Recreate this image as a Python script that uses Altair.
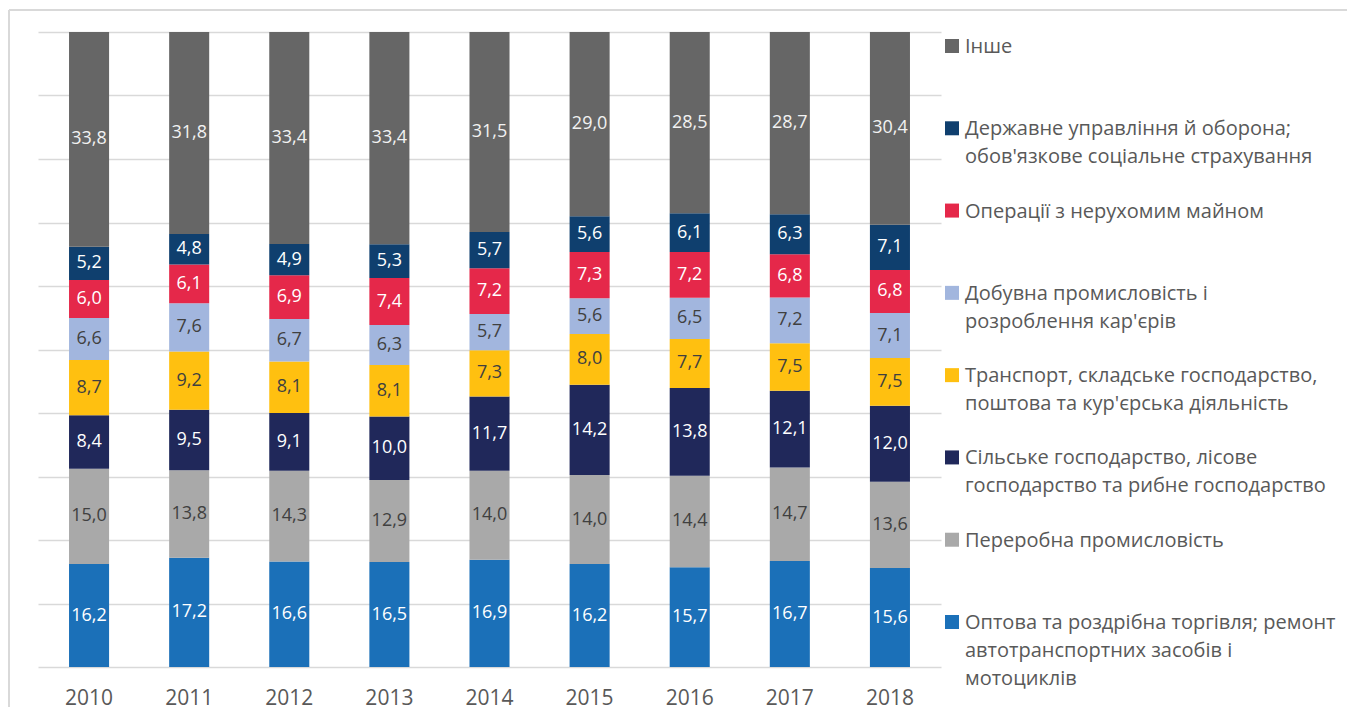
import altair as alt
import pandas as pd

years = ["2010", "2011", "2012", "2013", "2014", "2015", "2016", "2017", "2018"]

# categories from bottom of the stack to top
categories = [
    "Оптова та роздрібна торгівля; ремонт автотранспортних засобів і мотоциклів",
    "Переробна промисловість",
    "Сільське господарство, лісове господарство та рибне господарство",
    "Транспорт, складське господарство, поштова та кур'єрська діяльність",
    "Добувна промисловість і розроблення кар'єрів",
    "Операції з нерухомим майном",
    "Державне управління й оборона; обов'язкове соціальне страхування",
    "Інше",
]
legend_labels = [
    "Оптова та роздрібна торгівля; ремонт\nавтотранспортних засобів і\nмотоциклів",
    "Переробна промисловість",
    "Сільське господарство, лісове\nгосподарство та рибне господарство",
    "Транспорт, складське господарство,\nпоштова та кур'єрська діяльність",
    "Добувна промисловість і\nрозроблення кар'єрів",
    "Операції з нерухомим майном",
    "Державне управління й оборона;\nобов'язкове соціальне страхування",
    "Інше",
]
colors = ["#1b70b8", "#a9a9a9", "#20285a", "#ffc010", "#a2b6de", "#e5284a", "#0f3f6e", "#666666"]
label_colors = ["#ffffff", "#404040", "#ffffff", "#404040", "#404040", "#ffffff", "#ffffff", "#f2f2f2"]

trade = [16.2, 17.2, 16.6, 16.5, 16.9, 16.2, 15.7, 16.7, 15.6]
manufacturing = [15.0, 13.8, 14.3, 12.9, 14.0, 14.0, 14.4, 14.7, 13.6]
agriculture = [8.4, 9.5, 9.1, 10.0, 11.7, 14.2, 13.8, 12.1, 12.0]
transport = [8.7, 9.2, 8.1, 8.1, 7.3, 8.0, 7.7, 7.5, 7.5]
mining = [6.6, 7.6, 6.7, 6.3, 5.7, 5.6, 6.5, 7.2, 7.1]
real_estate = [6.0, 6.1, 6.9, 7.4, 7.2, 7.3, 7.2, 6.8, 6.8]
public_admin = [5.2, 4.8, 4.9, 5.3, 5.7, 5.6, 6.1, 6.3, 7.1]
other = [33.8, 31.8, 33.4, 33.4, 31.5, 29.0, 28.5, 28.7, 30.4]

series = [trade, manufacturing, agriculture, transport, mining, real_estate, public_admin, other]

rows = []
for ci, (cat, vals) in enumerate(zip(categories, series)):
    for yr, v in zip(years, vals):
        rows.append({"year": yr, "cat": cat, "order": ci, "value": v})
df = pd.DataFrame(rows)

FONT = "Open Sans"
BORDER = "#d9d9d9"
W, H = 903, 635

base = alt.Chart(df).transform_stack(
    stack="value",
    groupby=["year"],
    as_=["y0", "y1"],
    offset="normalize",
    sort=[alt.SortField("order", order="ascending")],
).transform_calculate(
    mid="(datum.y0 + datum.y1) / 2",
    lbl="replace(format(datum.value, '.1f'), '.', ',')",
)

x_enc = alt.X(
    "year:N",
    sort=years,
    scale=alt.Scale(paddingInner=0.6, paddingOuter=0.31),
    axis=alt.Axis(
        title=None, labelAngle=0, domain=False, ticks=False, grid=False,
        labelFont=FONT, labelFontSize=21, labelColor="#595959", labelPadding=20,
    ),
)

bars = base.mark_bar().encode(
    x=x_enc,
    y=alt.Y(
        "y0:Q",
        scale=alt.Scale(domain=[0, 1], nice=False),
        axis=alt.Axis(
            title=None, labels=False, ticks=False, domain=False, grid=True,
            gridColor="#d9d9d9", gridWidth=1.3, values=[i / 10 for i in range(11)],
        ),
    ),
    y2="y1:Q",
    color=alt.Color("cat:N", scale=alt.Scale(domain=categories, range=colors), legend=None),
)

texts = base.mark_text(font=FONT, fontSize=18, baseline="middle").encode(
    x=alt.X("year:N", sort=years),
    y=alt.Y("mid:Q", scale=alt.Scale(domain=[0, 1], nice=False), axis=None),
    text="lbl:N",
    color=alt.Color("cat:N", scale=alt.Scale(domain=categories, range=label_colors), legend=None),
)

# chart-area frame: top and left edges
frame_src = alt.Chart(pd.DataFrame({"k": [0]}))
frame_top = frame_src.mark_rule(color=BORDER, strokeWidth=2).encode(
    x=alt.value(-29), x2=alt.value(W + 406), y=alt.value(-22)
)
frame_left = frame_src.mark_rule(color=BORDER, strokeWidth=2).encode(
    x=alt.value(-29), y=alt.value(-22), y2=alt.value(H + 40)
)

# hand-built legend to the right of the plot
leg_df = pd.DataFrame({"cat": categories, "label": legend_labels})
ly = alt.Y(
    "cat:N",
    sort=list(reversed(categories)),
    scale=alt.Scale(type="point", range=[14, 590], padding=0),
    axis=None,
)
leg_sym = alt.Chart(leg_df).mark_square(size=196, opacity=1).encode(
    x=alt.value(W + 11),
    y=ly,
    color=alt.Color("cat:N", scale=alt.Scale(domain=categories, range=colors), legend=None),
)
leg_txt = alt.Chart(leg_df).mark_text(
    align="left", baseline="alphabetic", dy=7, lineBreak="\n", lineHeight=28,
    font=FONT, fontSize=20, color="#595959",
).encode(x=alt.value(W + 24), y=ly, text="label:N")

chart = alt.layer(bars, texts, leg_sym, leg_txt, frame_top, frame_left).resolve_scale(
    color="independent", y="independent"
).properties(
    width=W,
    height=H,
    padding={"left": 0, "top": 1, "right": 0, "bottom": 0},
    background="white",
).configure_view(stroke=None)

chart.save("out.html", embed_options={"renderer": "svg", "actions": False})
